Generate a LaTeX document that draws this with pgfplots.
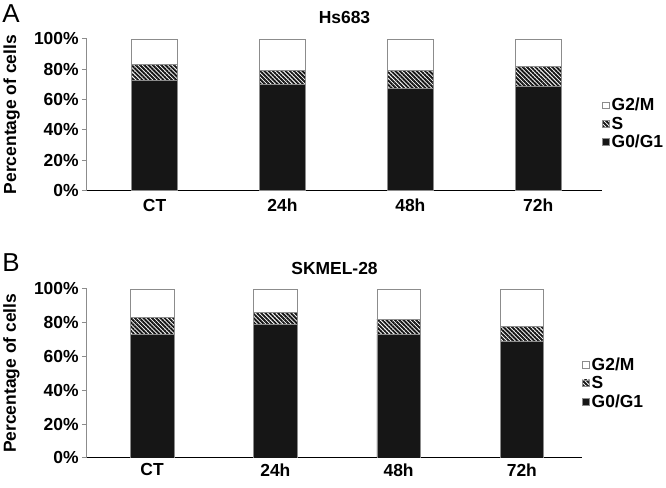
\documentclass[border=0pt]{standalone}
\usepackage{pgfplots}
\pgfplotsset{compat=1.18}
\usetikzlibrary{patterns.meta}
\usepackage{fontspec}
\setmainfont{Liberation Sans}

\definecolor{barblack}{HTML}{161616}
\definecolor{edgegray}{HTML}{8C8C8C}

\pgfplotsset{
  cellcycle/.style={
    ybar stacked,
    scale only axis,
    ymin=0, ymax=100,
    xmin=-0.53, xmax=3.5,
    xtick={0,1,2,3},
    xticklabels={CT,24h,48h,72h},
    ytick={0,20,40,60,80,100},
    yticklabels={0\%,20\%,40\%,60\%,80\%,100\%},
    axis x line=bottom,
    axis y line=left,
    axis line style={-},
    x axis line style={black, line width=0.9pt},
    y axis line style={edgegray, line width=0.9pt},
    xtick style={draw=none},
    ytick style={edgegray, line width=0.9pt},
    tick align=outside,
    major tick length=5pt,
    tick label style={font=\fontsize{17.5}{20}\selectfont\bfseries},
    yticklabel style={inner sep=1pt, xshift=-2pt},
    label style={font=\fontsize{17.5}{20}\selectfont\bfseries},
    title style={font=\fontsize{17.5}{20}\selectfont\bfseries},
    reverse legend,
    legend style={draw=none, fill=none, anchor=west,
      font=\fontsize{17.5}{20}\selectfont\bfseries,
      row sep=0.5pt, inner sep=0pt},
    legend cell align=left,
    legend image code/.code={
      \draw[#1, draw=edgegray, line width=0.5pt] (0pt,-3.4pt) rectangle (6.8pt,3.4pt);},
  },
  g0/.style={fill=barblack, draw=edgegray, line width=0.6pt},
  sph/.style={draw=edgegray, line width=0.6pt,
    pattern={Lines[angle=-45, distance=3pt, line width=1.9pt]}, pattern color=barblack},
  g2/.style={fill=white, draw=edgegray, line width=0.6pt},
}

\begin{document}
\begin{tikzpicture}
\path (0,0) rectangle (666pt,-489pt);

% Panel A
\node[anchor=north west, inner sep=0pt, font=\fontsize{26}{28}\selectfont] at (0pt,-4pt) {A};
\begin{axis}[cellcycle,
  at={(85pt,-191pt)}, anchor=south west,
  width=517pt, height=152pt,
  bar width=46pt,
  title={Hs683},
  title style={at={(axis description cs:0.5,1)}, anchor=south, yshift=6pt},
  ylabel={Percentage of cells},
  ylabel style={at={(axis description cs:-0.146,0.5)}, anchor=center},
  legend style={at={(axis description cs:1.0,0.44)}},
]
\addplot[g0] coordinates {(0,72.5) (1,70) (2,67.5) (3,69)};
\addplot[sph] coordinates {(0,10.5) (1,9) (2,11.5) (3,13)};
\addplot[g2] coordinates {(0,17) (1,21) (2,21) (3,18)};
\legend{G0/G1,S,G2/M}
\end{axis}

% Panel B
\node[anchor=north west, inner sep=0pt, font=\fontsize{26}{28}\selectfont] at (0pt,-254pt) {B};
\begin{axis}[cellcycle,
  at={(85pt,-459.3pt)}, anchor=south west,
  width=497pt, height=169.6pt,
  bar width=43.7pt,
  xmax=3.49,
  title={SKMEL-28},
  title style={at={(axis description cs:0.5,1)}, anchor=south, yshift=5pt},
  ylabel={Percentage of cells},
  ylabel style={at={(axis description cs:-0.152,0.5)}, anchor=center},
  xticklabel style={yshift=3pt},
  legend style={at={(axis description cs:1.0,0.442)}},
]
\addplot[g0] coordinates {(0,73) (1,79) (2,73) (3,69)};
\addplot[sph] coordinates {(0,10) (1,7) (2,9) (3,9)};
\addplot[g2] coordinates {(0,17) (1,14) (2,18) (3,22)};
\legend{G0/G1,S,G2/M}
\end{axis}
\end{tikzpicture}
\end{document}
